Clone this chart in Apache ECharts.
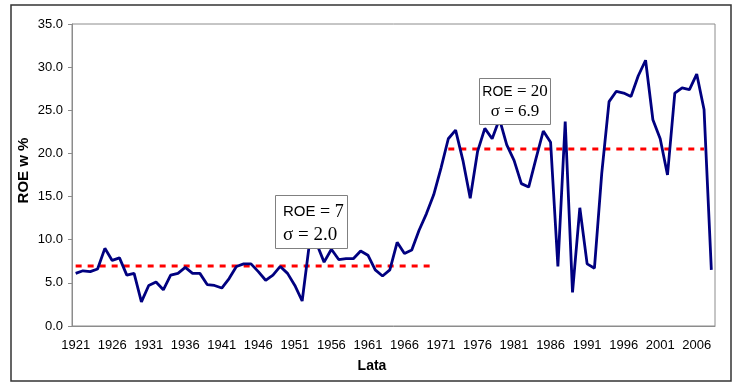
<!DOCTYPE html>
<html>
<head>
<meta charset="utf-8">
<script src="https://cdn.jsdelivr.net/npm/echarts@6/dist/echarts.min.js"></script>
<style>
html,body{margin:0;padding:0;background:#fff;}
#chart{width:744px;height:389px;}
</style>
</head>
<body>
<div id="chart"></div>
<script>
var years = [];
for (var y = 1921; y <= 2008; y++) years.push(String(y));

var roeValues = [
  6.1, 6.4, 6.3, 6.6, 9.0, 7.6, 7.9, 5.9, 6.1, 2.8,
  4.7, 5.1, 4.2, 5.9, 6.1, 6.8, 6.1, 6.1, 4.8, 4.7,
  4.4, 5.5, 6.9, 7.2, 7.2, 6.3, 5.3, 5.9, 6.9, 6.1,
  4.7, 2.9, 9.6, 9.5, 7.4, 8.9, 7.7, 7.8, 7.8, 8.7,
  8.2, 6.5, 5.8, 6.5, 9.7, 8.4, 8.8, 11.1, 13.0, 15.2,
  18.3, 21.7, 22.7, 19.2, 14.8, 20.2, 22.9, 21.7, 24.0, 21.0,
  19.2, 16.5, 16.1, 19.4, 22.6, 21.3, 6.9, 23.7, 3.9, 13.7,
  7.2, 6.7, 17.7, 26.0, 27.2, 27.0, 26.6, 29.0, 30.8, 23.9,
  21.7, 17.5, 27.0, 27.6, 27.4, 29.2, 25.1, 6.5
];

var meanStart = ['1921', '1972'];
var meanEnd = ['1970', '2007'];
var meanValue = [6.95, 20.5];
var meanLabelRoe = ['7', '20'];
var meanLabelSigma = ['2.0', '6.9'];

var yTicks = [0, 5, 10, 15, 20, 25, 30, 35];

function meanSeriesData(k) {
  var s = years.indexOf(meanStart[k]), e = years.indexOf(meanEnd[k]);
  return years.map(function (yr, i) { return (i >= s && i <= e) ? meanValue[k] : null; });
}

var chart = echarts.init(document.getElementById('chart'), null, {renderer: 'canvas'});

var sansRich = {
  a: {fontFamily: 'Liberation Sans, Arial, sans-serif', fontSize: 15, color: '#000'},
  b: {fontFamily: 'Liberation Serif, Times New Roman, serif', fontSize: 18, color: '#000'}
};

chart.setOption({
  animation: false,
  backgroundColor: '#fff',
  grid: {left: 72, right: 29, top: 24, bottom: 63, show: true, borderColor: '#8c8c8c', borderWidth: 1},
  xAxis: {
    type: 'category',
    data: years,
    boundaryGap: true,
    name: 'Lata',
    nameLocation: 'middle',
    nameGap: 33,
    nameTextStyle: {fontFamily: 'Liberation Sans, Arial, sans-serif', fontWeight: 'bold', fontSize: 14, color: '#000',
      padding: [0, 43, 0, 0]},
    axisLine: {lineStyle: {color: '#8c8c8c', width: 1}},
    axisTick: {interval: 4, length: 4, lineStyle: {color: '#8c8c8c'}},
    axisLabel: {interval: 4, margin: 13, fontFamily: 'Liberation Sans, Arial, sans-serif', fontSize: 13, color: '#000'},
    splitLine: {show: false}
  },
  yAxis: {
    type: 'value',
    min: yTicks[0],
    max: yTicks[yTicks.length - 1],
    interval: 5,
    name: 'ROE w %',
    nameLocation: 'middle',
    nameGap: 41,
    nameMoveOverlap: false,
    nameTextStyle: {fontFamily: 'Liberation Sans, Arial, sans-serif', fontWeight: 'bold', fontSize: 15, color: '#000',
      padding: [0, 0, 0, 9]},
    axisLine: {show: true, lineStyle: {color: '#8c8c8c', width: 1}},
    axisTick: {show: true, length: 4, lineStyle: {color: '#8c8c8c'}},
    axisLabel: {margin: 9, fontFamily: 'Liberation Sans, Arial, sans-serif', fontSize: 13, color: '#000',
      formatter: function (v) { return v.toFixed(1); }},
    splitLine: {show: false}
  },
  series: [
    {
      type: 'line', data: meanSeriesData(0), symbol: 'none', connectNulls: false,
      lineStyle: {color: '#ff0000', width: 3, type: [6, 6]}, z: 2
    },
    {
      type: 'line', data: meanSeriesData(1), symbol: 'none', connectNulls: false,
      lineStyle: {color: '#ff0000', width: 3, type: [6, 6]}, z: 2
    },
    {
      type: 'line', data: roeValues, symbol: 'none',
      lineStyle: {color: '#000080', width: 2.8}, z: 3
    }
  ],
  graphic: [
    {type: 'rect', shape: {x: 11, y: 5, width: 720, height: 376}, style: {fill: 'none', stroke: '#333', lineWidth: 1.5}, silent: true, z: 1},
    {type: 'rect', shape: {x: 275.5, y: 195.5, width: 72, height: 53}, style: {fill: '#fff', stroke: '#808080', lineWidth: 1}, z: 10},
    {type: 'text', x: 283, y: 212, z: 11, style: {
      text: '{a|ROE}{b| = ' + meanLabelRoe[0] + '}', rich: sansRich, textVerticalAlign: 'middle', textAlign: 'left'}},
    {type: 'text', x: 283, y: 235, z: 11, style: {
      text: 'σ = ' + meanLabelSigma[0], fontFamily: 'Liberation Serif, Times New Roman, serif', fontSize: 19, fill: '#000',
      textVerticalAlign: 'middle', textAlign: 'left'}},
    {type: 'rect', shape: {x: 479.5, y: 78.5, width: 71, height: 46}, style: {fill: '#fff', stroke: '#808080', lineWidth: 1}, z: 10},
    {type: 'text', x: 515, y: 92, z: 11, style: {
      text: '{a|ROE}{b| = ' + meanLabelRoe[1] + '}', rich: {
        a: {fontFamily: 'Liberation Sans, Arial, sans-serif', fontSize: 14, color: '#000'},
        b: {fontFamily: 'Liberation Serif, Times New Roman, serif', fontSize: 17, color: '#000'}
      }, textVerticalAlign: 'middle', textAlign: 'center'}},
    {type: 'text', x: 515, y: 112, z: 11, style: {
      text: 'σ = ' + meanLabelSigma[1], fontFamily: 'Liberation Serif, Times New Roman, serif', fontSize: 17, fill: '#000',
      textVerticalAlign: 'middle', textAlign: 'center'}}
  ]
});
</script>
</body>
</html>
